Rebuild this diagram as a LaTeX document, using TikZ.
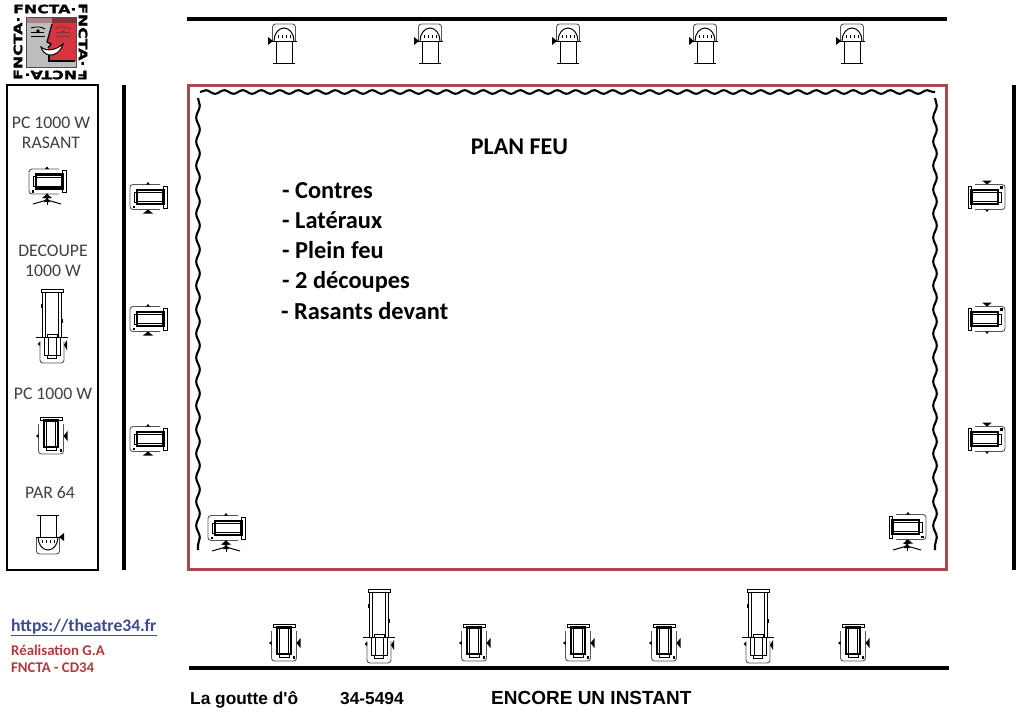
\documentclass[tikz,border=0pt]{standalone}
\usepackage{fontspec}
\setmainfont{Carlito}
\newfontfamily\arialf{Liberation Sans}
\newfontfamily\logof[BoldFeatures={FakeBold=1.5}]{DejaVu Sans}
\usetikzlibrary{decorations.pathmorphing}
\definecolor{framered}{HTML}{A84850}
\definecolor{legendgrey}{HTML}{404040}
\definecolor{urlblue}{HTML}{3C4A8E}
\definecolor{creditred}{HTML}{B23A3E}
\definecolor{yokegrey}{HTML}{555555}
\definecolor{logored}{HTML}{D8343F}
\definecolor{logogrey}{HTML}{BDBDBD}
\definecolor{logodark}{HTML}{8A3038}
\definecolor{logoband}{HTML}{B08088}
\tikzset{
  x=1pt,y=-1pt,
  blackbar/.style={line width=4pt,black},
  curtain/.style={line width=2.1pt,black,decorate,decoration={snake,amplitude=1.8pt,segment length=#1}},
  curtain/.default=18pt,
  thinp/.style={line width=.8pt,black},
  thickp/.style={line width=2.2pt,black},
  yoke/.style={line width=.9pt,yokegrey,rounded corners=3pt},
  legendtxt/.style={text=legendgrey,font=\fontsize{17.7}{20.5}\selectfont,align=center,inner sep=0pt},
  listtxt/.style={text=black,font=\bfseries\fontsize{24.4}{28}\selectfont,anchor=base west,inner sep=0pt},
  bottomtxt/.style={text=black,font=\arialf\bfseries\fontsize{17.3}{20}\selectfont,anchor=base west,inner sep=0pt},
  credit/.style={text=creditred,font=\bfseries\fontsize{14.8}{17}\selectfont,anchor=base west,inner sep=0pt},
  logotxt/.style={text=black,font=\logof\bfseries\fontsize{11.5}{11.5}\selectfont,inner sep=0pt},
  pics/pclamp/.style={code={
    \draw[yoke] (-12.5,-12) -- (-12.5,18) -- (12.5,18) -- (12.5,-12);
    \draw[thinp,fill=white] (-11,-19) rectangle (11,-15.5);
    \draw[thickp,fill=white] (-7,-15.5) rectangle (7,11);
    \draw[thinp] (-4.5,-15.5) -- (-4.5,11) (4.5,-15.5) -- (4.5,11);
    \draw[thinp] (-5,11) -- (-5,14) -- (5,14) -- (5,11);
    \fill[black] (-12.5,-2) -- (-15,0) -- (-12.5,2) -- cycle;
    \fill[black] (12.5,0) -- (16.5,-5) -- (16.5,5) -- cycle;
    \fill[black] (8.5,13) rectangle (11,15.5);
  }},
  pics/parlamp/.style={code={
    \draw[yoke] (-11.5,0) -- (-11.5,17) -- (11.5,17) -- (11.5,0);
    \draw[thinp,fill=white] (-8,-22) rectangle (8,0);
    \draw[line width=1pt] (-11,-22) -- (11,-22);
    \draw[line width=1pt] (-10,0) arc[start angle=180,end angle=0,x radius=10,y radius=13];
    \draw[line width=1pt] (-12.5,0) -- (12,0);
    \foreach \d in {-6,-2,2,6} \draw[line width=.8pt] (\d,3) -- (\d,6);
    \fill[black] (11,0) -- (16,-4) -- (16,4) -- cycle;
  }},
  pics/decoupelamp/.style={code={
    \draw[yoke] (-12,4) -- (-12,26) -- (12,26) -- (12,4);
    \draw[thinp,fill=white] (-11,-48) rectangle (11,-44.5);
    \draw[thinp,fill=white] (-9.5,-44.5) rectangle (9.5,0);
    \draw[thinp] (-6.5,-44.5) -- (-6.5,0) (6.5,-44.5) -- (6.5,0);
    \fill[black] (-11,-33) rectangle (-9.5,-29);
    \fill[black] (9.5,-18) rectangle (11,-14);
    \draw[line width=1pt] (-16,0) -- (16,0);
    \draw[thinp,fill=white] (-5,-3) rectangle (5,0);
    \draw[line width=1pt,fill=white] (-8,0) rectangle (8,18);
    \draw[thinp] (-4,0) -- (-4,18) (4,0) -- (4,18);
    \draw[thinp] (-4.5,18) -- (-4.5,21) -- (4.5,21) -- (4.5,18);
    \fill[black] (-12,5) -- (-14.5,7) -- (-12,9) -- cycle;
    \fill[black] (12,8) -- (15,3) -- (15,13) -- cycle;
  }},
  pics/tripod/.style={code={
    \fill[black] (0,-5) -- (3,0) -- (-3,0) -- cycle;
    \fill[black] (0,-1) -- (3,4) -- (-3,4) -- cycle;
    \draw[line width=1pt] (-14,6) -- (0,2) -- (14,6);
    \draw[line width=1pt] (0,2) -- (0,7);
  }},
}
\begin{document}
\begin{tikzpicture}
\useasboundingbox (0,0) rectangle (1024,724);
\fill[white] (0,0) rectangle (1024,724);

% logo
\fill[logogrey] (26,17) rectangle (76,67);
\fill[logored] (52,23) -- (76,23) -- (76,61) -- (49,61) -- (49,54) -- (48,48) -- (51,44) -- (47,42) -- cycle;
\fill[logoband] (26,17) rectangle (76,23);
\fill[logodark] (52,17) rectangle (76,23);
\draw[line width=.8pt,black!70] (26,17) rectangle (76,67);
\draw[line width=1.2pt,black] (52,24) -- (47,42) -- (51,44) -- (48,48);
\draw[line width=1.2pt,black] (49,54) -- (49,61) -- (75,61);
\draw[line width=.9pt,black] (31,28) .. controls (37,26) and (42,27) .. (45,29);
\draw[line width=.9pt,black] (31,36) -- (45,36);
\fill[black] (38,31) circle[radius=1.8];
\draw[line width=.8pt,black] (31,32) -- (44,32);
\draw[line width=.9pt,logodark] (56,28) .. controls (60,26) and (66,27) .. (70,29);
\draw[line width=.9pt,logodark] (56,36) -- (70,36);
\draw[line width=.8pt,logodark] (56,32) -- (70,32);
\fill[logodark] (63,32) circle[radius=1.8];
\draw[line width=1pt,black,fill=white] (41,47) .. controls (47,52) and (56,50) .. (63,44) .. controls (61,52) and (54,56) .. (49,55) .. controls (45,54) and (42,51) .. (41,47) -- cycle;
\node[logotxt,anchor=west] (logoT) at (13,9) {\scalebox{1.37}[1]{FNCTA·}};
\node[logotxt,anchor=west,rotate=-90] (logoR) at (83,3) {\scalebox{1.37}[1]{FNCTA·}};
\node[logotxt,anchor=west,rotate=180] (logoB) at (88,75) {\scalebox{1.37}[1]{FNCTA·}};
\node[logotxt,anchor=west,rotate=90] (logoL) at (18,80) {\scalebox{1.37}[1]{FNCTA·}};

% frames
\draw[blackbar] (187,19) -- (947,19);
\draw[blackbar] (124,85) -- (124,570);
\draw[blackbar] (1014,85) -- (1014,570);
\draw[blackbar] (189,668) -- (949,668);
\draw[line width=3pt,framered] (188,85) rectangle (946,569);
\draw[line width=2.6pt,black] (7,85) rectangle (98,570);

% curtains
\draw[curtain=18.5pt] (200,92) -- (935,92);
\draw[curtain=24pt] (198,98) -- (198,550);
\draw[curtain=24pt] (935,98) -- (935,550);

% legend
\node[legendtxt] (legRas) at (51,133) {PC 1000 W\\RASANT};
\node[legendtxt] (legDec) at (53,261) {DECOUPE\\1000 W};
\node[legendtxt] (legPc) at (53,394) {PC 1000 W};
\node[legendtxt] (legPar) at (50,493) {PAR 64};
\pic[rotate=-90] at (47,181.5) {pclamp};
\pic at (47,198) {tripod};
\pic at (52,337) {decoupelamp};
\pic at (51,436) {pclamp};
\pic at (48,537) {parlamp};

% top row
\foreach \px in {284,430,568,705,852} \pic[rotate=180] at (\px,41) {parlamp};
% sides
\foreach \py in {197,319,439} {
  \pic[rotate=-90] at (148,\py) {pclamp};
  \pic[rotate=90] at (987,\py) {pclamp};
}
% rasants
\pic[rotate=-90] at (226,528) {pclamp};
\pic at (226,545) {tripod};
\pic[xscale=-1,rotate=-90] at (908,527) {pclamp};
\pic at (907,544) {tripod};
% bottom row
\foreach \px in {284,474,578,664,853} \pic at (\px,643) {pclamp};
\foreach \px in {379,758} \pic at (\px,637) {decoupelamp};

% text
\node[text=black,font=\bfseries\fontsize{24}{28}\selectfont,inner sep=0pt] (title) at (519.5,147) {PLAN FEU};
\node[listtxt] (l1) at (282,198) {- Contres};
\node[listtxt] (l2) at (282,228) {- Latéraux};
\node[listtxt] (l3) at (282,258) {- Plein feu};
\node[listtxt] (l4) at (282,288) {- 2 découpes};
\node[listtxt] (l5) at (281,319) {- Rasants devant};
\node[text=urlblue,font=\bfseries\fontsize{17.6}{20}\selectfont,anchor=base west,inner sep=0pt] (url) at (11,631) {https://theatre34.fr};
\draw[line width=1pt,urlblue] (11,635) -- (157,635);
\node[credit] (c1) at (11,655) {Réalisation G.A};
\node[credit] (c2) at (11,672) {FNCTA - CD34};
\node[bottomtxt] (b1) at (190,704) {La goutte d'ô};
\node[bottomtxt] (b2) at (340,704) {34-5494};
\node[bottomtxt,font=\arialf\bfseries\fontsize{19}{22}\selectfont] (b3) at (491,704) {ENCORE UN INSTANT};
\end{tikzpicture}
\end{document}
